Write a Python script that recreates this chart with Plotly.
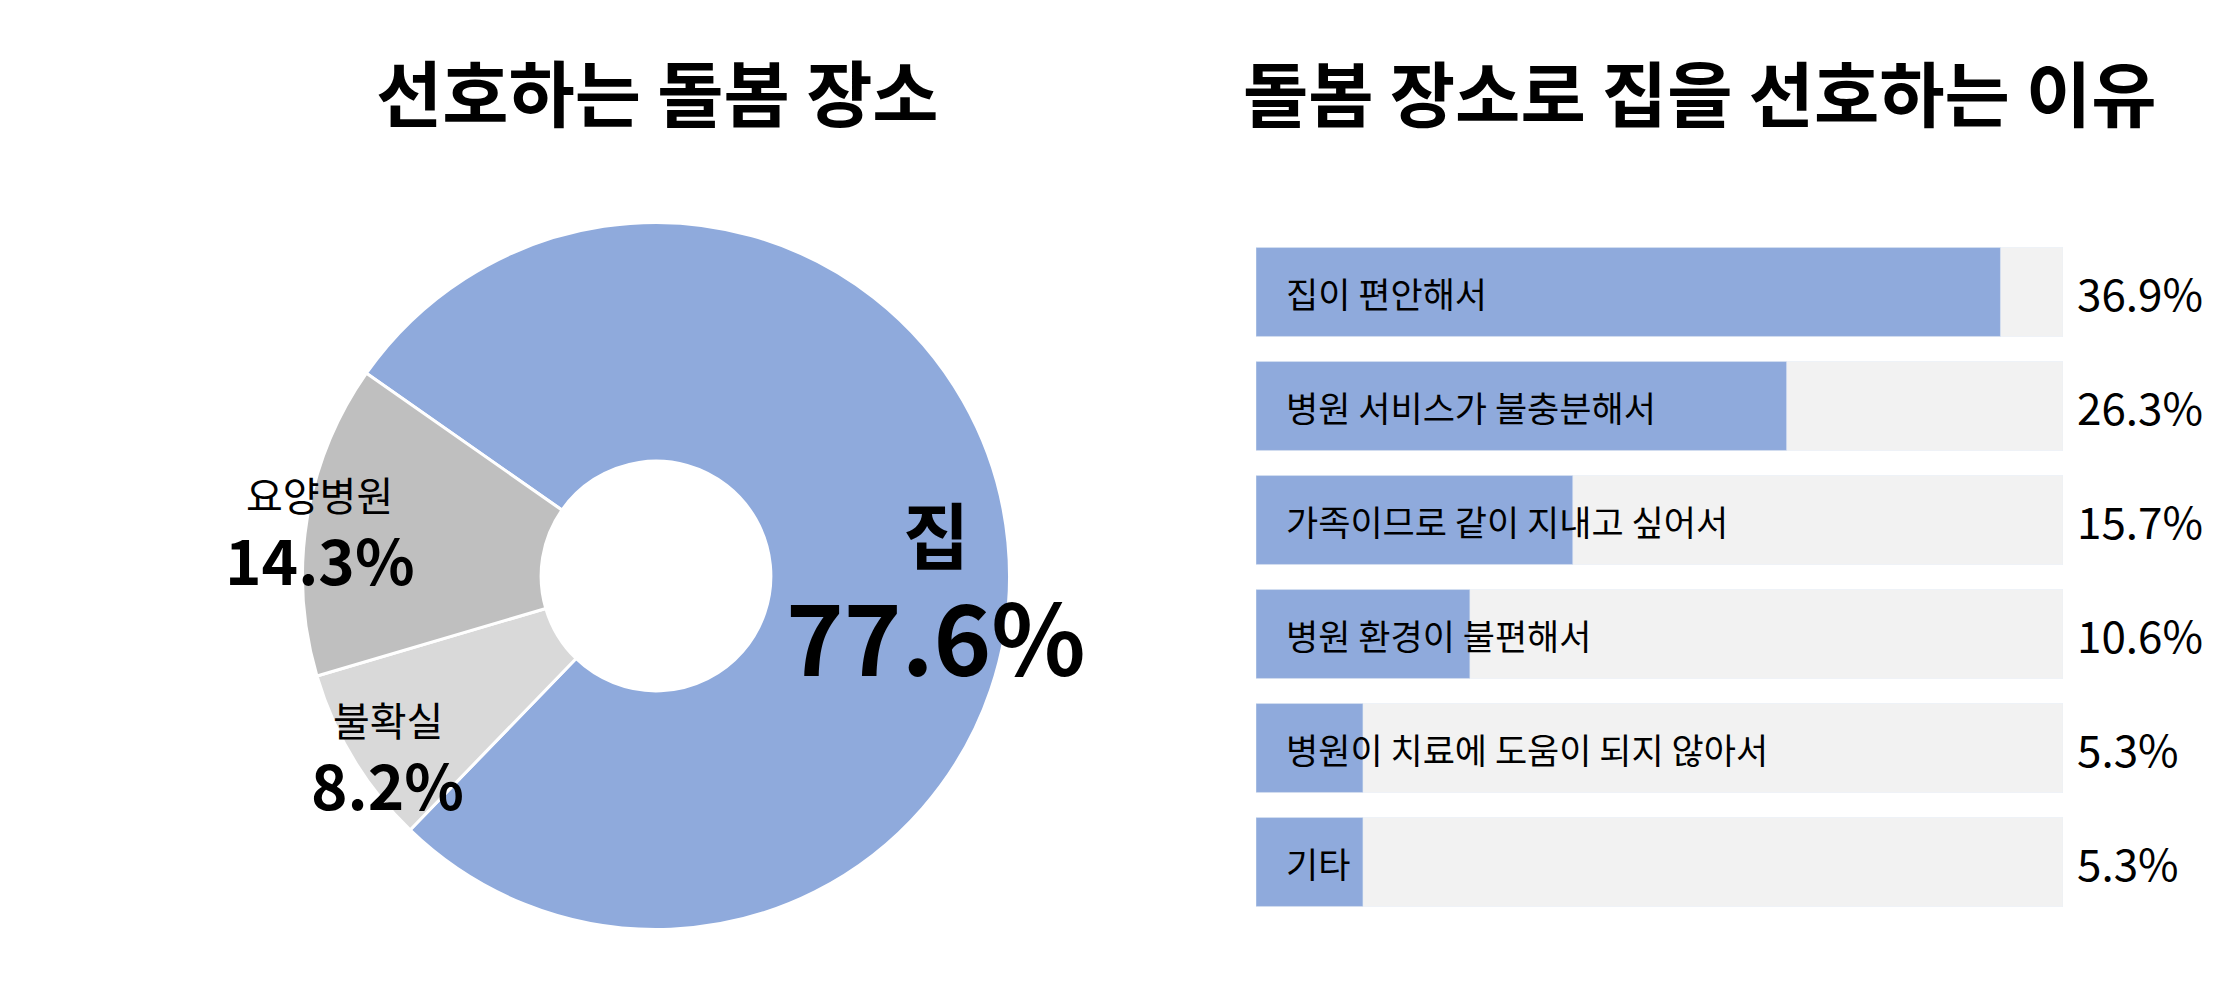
import math
import plotly.graph_objects as go

FONT = 'Noto Sans CJK KR'
BLUE = '#8FAADC'
BG_GRAY = '#F2F2F2'

# left chart data
place_labels = ['집', '불확실', '요양병원']
place_values = [77.6, 8.2, 14.3]
place_colors = [BLUE, '#D9D9D9', '#BFBFBF']

# right chart data
reason_labels = ['집이 편안해서', '병원 서비스가 불충분해서', '가족이므로 같이 지내고 싶어서',
                 '병원 환경이 불편해서', '병원이 치료에 도움이 되지 않아서', '기타']
reason_values = [36.9, 26.3, 15.7, 10.6, 5.3, 5.3]
AXIS_MAX = 40

W, H = 2235, 1000

# pie geometry (pixels)
PIE_CX, PIE_CY, PIE_R = 648, 568, 353.5
ROTATION = -55

# label styles per slice: (radial factor, angle tweak, name size, value size, line gap)
label_style = {
    '집': (0.792, -6.7, 72, 98, 102),
    '불확실': (0.906, 2.0, 40, 62, 64),
    '요양병원': (0.962, 0.8, 40, 62, 64),
}

fig = go.Figure()

fig.add_trace(go.Pie(
    labels=place_labels, values=place_values, sort=False, direction='clockwise',
    rotation=ROTATION, hole=0.325,
    marker=dict(colors=place_colors, line=dict(color='white', width=3)),
    textinfo='none', hoverinfo='label+value', showlegend=False,
    domain=dict(x=[(PIE_CX - PIE_R) / W, (PIE_CX + PIE_R) / W],
                y=[1 - (PIE_CY + PIE_R) / H, 1 - (PIE_CY - PIE_R) / H]),
))

# background bars
fig.add_trace(go.Bar(
    y=reason_labels, x=[AXIS_MAX] * len(reason_labels), orientation='h',
    marker_color=BG_GRAY, hoverinfo='skip', showlegend=False,
))
fig.add_trace(go.Bar(
    y=reason_labels, x=reason_values, orientation='h',
    marker_color=BLUE, showlegend=False,
))

annotations = []

# titles
annotations.append(dict(text='<b>선호하는 돌봄 장소</b>', x=649 / W, y=1 - 82 / H,
                        xref='paper', yref='paper', xanchor='center', yanchor='middle',
                        showarrow=False, font=dict(family=FONT, size=72, color='black')))
annotations.append(dict(text='<b>돌봄 장소로 집을 선호하는 이유</b>', x=1692 / W, y=1 - 82 / H,
                        xref='paper', yref='paper', xanchor='center', yanchor='middle',
                        showarrow=False, font=dict(family=FONT, size=71, color='black')))

# pie labels, placed near the middle angle of each slice (name over value)
total = sum(place_values)
start = 90 - ROTATION  # math angle of first slice start (degrees)
for lab, val in zip(place_labels, place_values):
    span = val / total * 360
    rf, tweak, ns, vs, gap = label_style[lab]
    mid = math.radians(start - span / 2 + tweak)
    start -= span
    px = PIE_CX + rf * PIE_R * math.cos(mid)
    py = PIE_CY - rf * PIE_R * math.sin(mid)
    name_txt = '<b>' + lab + '</b>' if lab == '집' else lab
    annotations.append(dict(text=name_txt, x=px / W, y=1 - (py - gap / 2) / H,
                            xref='paper', yref='paper', showarrow=False,
                            xanchor='center', yanchor='middle',
                            font=dict(family=FONT, size=ns, color='black')))
    annotations.append(dict(text='<b>%.1f%%</b>' % val, x=px / W, y=1 - (py + gap / 2) / H,
                            xref='paper', yref='paper', showarrow=False,
                            xanchor='center', yanchor='middle',
                            font=dict(family=FONT, size=vs, color='black')))

# bar category labels and values
for lab, val in zip(reason_labels, reason_values):
    annotations.append(dict(text=lab, x=0, y=lab, xref='x', yref='y',
                            xanchor='left', yanchor='middle', xshift=28, showarrow=False,
                            font=dict(family=FONT, size=35, color='black')))
    annotations.append(dict(text='%.1f%%' % val, x=2067 / W, y=lab, xref='paper', yref='y',
                            xanchor='left', yanchor='middle', showarrow=False,
                            font=dict(family=FONT, size=44, color='black')))

fig.update_layout(
    width=W, height=H, autosize=False,
    margin=dict(l=0, r=0, t=0, b=0),
    paper_bgcolor='white', plot_bgcolor='white',
    barmode='overlay', bargap=0.22,
    annotations=annotations,
    font=dict(family=FONT),
)
fig.update_xaxes(domain=[1248 / W, 2055 / W], range=[0, AXIS_MAX],
                 visible=False, showgrid=False, zeroline=False, fixedrange=True)
fig.update_yaxes(domain=[1 - 911 / H, 1 - 227 / H], autorange='reversed',
                 visible=False, showgrid=False, fixedrange=True)

fig.write_html("out.html")
